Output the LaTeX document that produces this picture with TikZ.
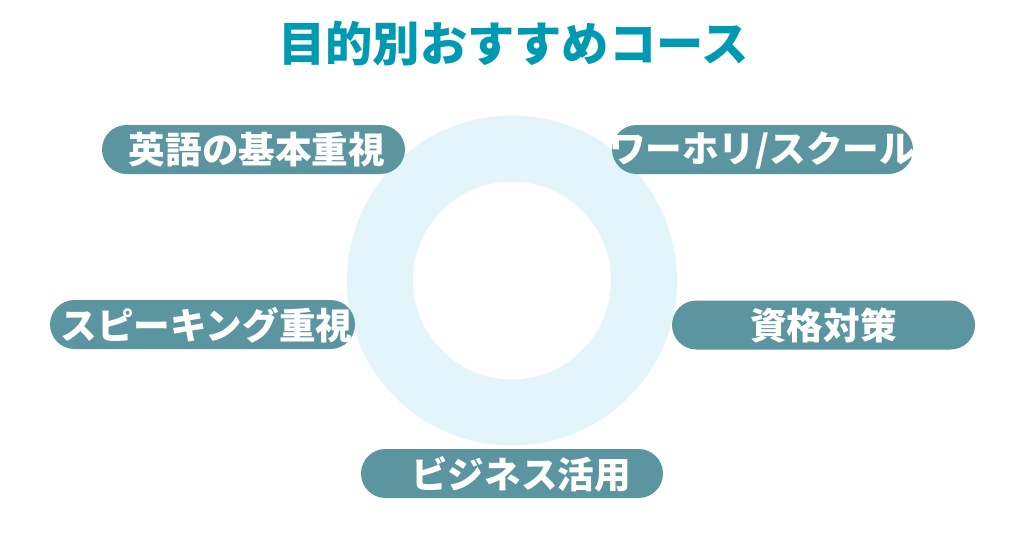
\documentclass[tikz,border=0pt]{standalone}
\usepackage{fontspec}
\setmainfont{Noto Sans CJK JP}
\newfontfamily\jpfont{Noto Sans CJK JP}
\definecolor{titleteal}{HTML}{0099B2}
\definecolor{pillteal}{HTML}{5B959F}
\definecolor{ringblue}{HTML}{E3F5FA}
\tikzset{
  pillbox/.style={fill=pillteal, draw=none, rounded corners=24.5pt, minimum height=49pt, inner sep=0pt},
  pilltext/.style={text=white, font=\jpfont\bfseries\fontsize{36.6}{40}\selectfont, inner sep=0pt, anchor=center},
  titletext/.style={text=titleteal, font=\jpfont\bfseries\fontsize{47.3}{52}\selectfont, inner sep=0pt}
}
\begin{document}
\begin{tikzpicture}[x=1pt,y=-1pt]
\path[use as bounding box, fill=white] (0,0) rectangle (1024,538);
% title
\node[titletext] (title) at (513.5,44) {目的別おすすめコース};
% ring
\coordinate (c) at (512,280.5);
\fill[ringblue, even odd rule] (c) circle[radius=165] (c) circle[radius=99];
% pills
\node[pillbox, minimum width=303pt] (p1) at (253.5,149.5) {};
\node[pilltext] (t1) at (257,150) {英語の基本重視};
\node[pillbox, minimum width=301pt] (p2) at (762.5,149.5) {};
\node[pilltext] (t2) at (762.5,150) {ワーホリ/スクール};
\node[pillbox, minimum width=305pt] (p4) at (202.5,324.5) {};
\node[pilltext] (t4) at (206.5,325) {スピーキング重視};
\node[pillbox, minimum width=303pt] (p5) at (823.5,325) {};
\node[pilltext] (t5) at (823.5,325.5) {資格対策};
\node[pillbox, minimum width=302pt] (p3) at (512,473.5) {};
\node[pilltext] (t3) at (521,474) {ビジネス活用};
\end{tikzpicture}
\end{document}
